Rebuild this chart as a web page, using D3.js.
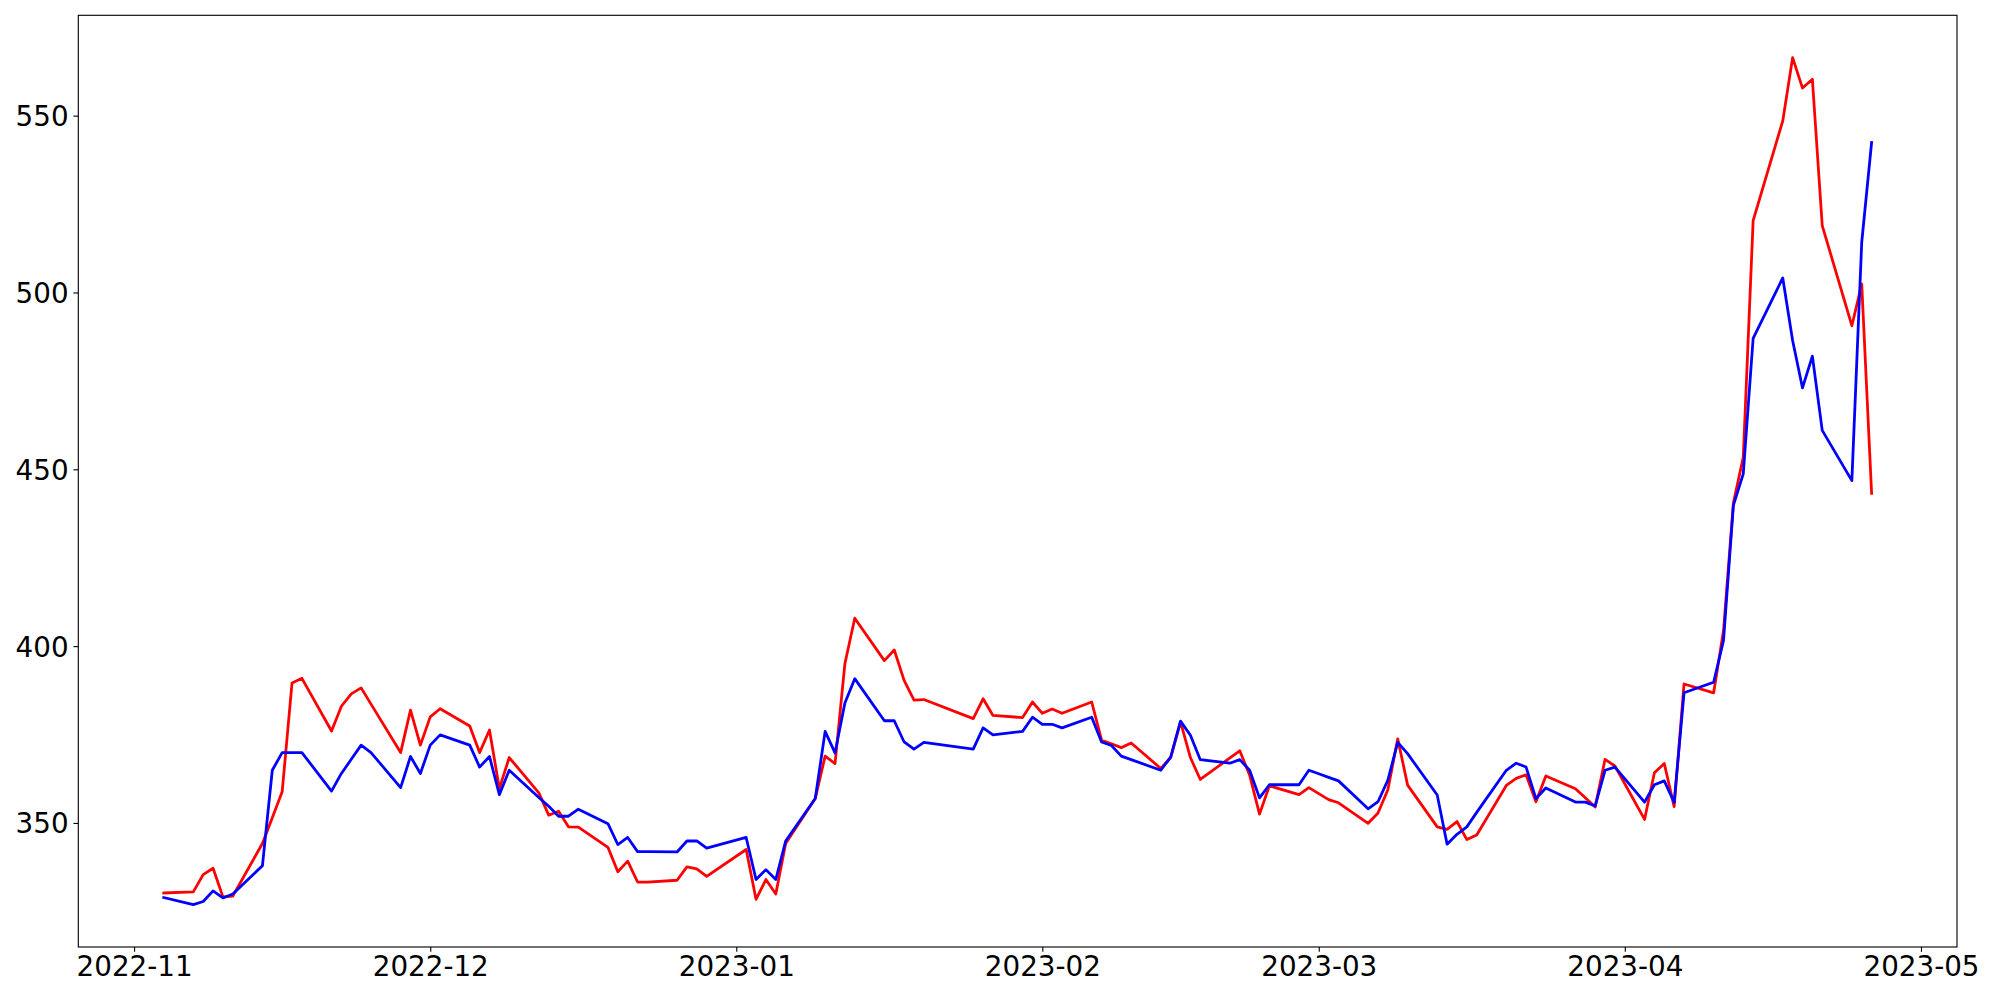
<!DOCTYPE html>
<html>
<head>
<meta charset="utf-8">
<script src="https://cdn.jsdelivr.net/npm/d3@7"></script>
<style>
  html, body { margin: 0; padding: 0; background: #ffffff; }
  svg { display: block; }
</style>
</head>
<body>
<svg id="chart" width="2000" height="1000"></svg>
<script>
const dates = [
  "2022-11-04","2022-11-07","2022-11-08","2022-11-09","2022-11-10","2022-11-11",
  "2022-11-14","2022-11-15","2022-11-16","2022-11-17","2022-11-18",
  "2022-11-21","2022-11-22","2022-11-23","2022-11-24","2022-11-25",
  "2022-11-28","2022-11-29","2022-11-30","2022-12-01","2022-12-02",
  "2022-12-05","2022-12-06","2022-12-07","2022-12-08","2022-12-09",
  "2022-12-12","2022-12-13","2022-12-14","2022-12-15","2022-12-16",
  "2022-12-19","2022-12-20","2022-12-21","2022-12-22","2022-12-23",
  "2022-12-26","2022-12-27","2022-12-28","2022-12-29",
  "2023-01-02","2023-01-03","2023-01-04","2023-01-05","2023-01-06",
  "2023-01-09","2023-01-10","2023-01-11","2023-01-12","2023-01-13",
  "2023-01-16","2023-01-17","2023-01-18","2023-01-19","2023-01-20",
  "2023-01-25","2023-01-26","2023-01-27",
  "2023-01-30","2023-01-31","2023-02-01","2023-02-02","2023-02-03",
  "2023-02-06","2023-02-07","2023-02-08","2023-02-09","2023-02-10",
  "2023-02-13","2023-02-14","2023-02-15","2023-02-16","2023-02-17",
  "2023-02-20","2023-02-21","2023-02-22","2023-02-23","2023-02-24",
  "2023-02-27","2023-02-28","2023-03-01","2023-03-02","2023-03-03",
  "2023-03-06","2023-03-07","2023-03-08","2023-03-09","2023-03-10",
  "2023-03-13","2023-03-14","2023-03-15","2023-03-16","2023-03-17",
  "2023-03-20","2023-03-21","2023-03-22","2023-03-23","2023-03-24",
  "2023-03-27","2023-03-28","2023-03-29","2023-03-30","2023-03-31",
  "2023-04-03","2023-04-04","2023-04-05","2023-04-06","2023-04-07",
  "2023-04-10","2023-04-11","2023-04-12","2023-04-13","2023-04-14",
  "2023-04-17","2023-04-18","2023-04-19","2023-04-20","2023-04-21",
  "2023-04-24","2023-04-25","2023-04-26"
];

const redValues = [
  330.2,330.5,335.4,337.2,329.1,329.3,
  344.2,351.5,358.8,389.6,390.9,
  376.0,383.0,386.5,388.2,383.6,
  369.9,381.9,372.0,380.0,382.3,
  377.4,369.9,376.3,359.7,368.5,
  358.5,352.2,353.3,348.9,348.8,
  343.1,336.2,339.2,333.3,333.3,
  333.8,337.6,337.0,334.9,
  342.5,328.4,334.0,329.9,344.2,
  356.9,368.9,366.8,395.0,407.9,
  395.9,398.9,390.3,384.7,384.9,
  379.5,385.1,380.4,
  379.8,384.2,381.0,382.2,381.0,
  384.2,373.4,372.4,371.3,372.6,
  365.4,368.5,378.6,368.5,362.3,
  368.4,370.4,363.5,352.5,360.5,
  358.0,360.0,358.3,356.6,355.7,
  349.9,352.8,359.4,373.8,360.7,
  348.9,348.2,350.4,345.3,346.6,
  360.6,362.6,363.6,356.0,363.3,
  359.7,357.1,354.5,368.0,366.1,
  351.0,364.2,366.8,354.6,389.3,
  386.8,404.4,440.5,453.4,520.3,
  548.5,566.4,557.8,560.3,518.9,
  490.6,502.4,443.2
];

const blueValues = [
  328.9,326.9,327.8,330.8,328.8,329.9,
  337.9,364.9,369.9,369.9,369.9,
  359.0,364.0,368.0,372.0,369.9,
  360.0,368.8,364.0,372.0,374.9,
  372.0,365.8,368.8,358.0,364.9,
  357.2,354.7,351.9,351.9,353.9,
  349.8,343.9,345.9,341.9,341.9,
  341.8,344.9,344.9,342.9,
  345.9,334.0,336.8,334.0,344.9,
  356.9,375.9,369.8,383.9,390.8,
  378.9,378.9,372.9,370.9,372.8,
  370.9,376.9,374.9,
  375.9,379.9,377.9,377.9,376.9,
  379.9,372.9,371.9,368.9,367.9,
  364.9,368.6,378.8,374.8,367.9,
  366.9,367.9,364.9,357.1,360.8,
  360.8,364.9,363.9,362.9,361.9,
  354.0,356.0,362.1,372.8,369.6,
  357.9,344.0,346.8,348.9,353.0,
  364.9,366.9,365.8,356.9,359.9,
  355.9,355.9,354.8,364.9,365.8,
  355.9,360.8,361.9,355.8,386.8,
  389.8,401.6,439.8,448.7,487.0,
  504.1,486.4,473.0,482.0,461.0,
  446.8,514.2,542.4
];

const yTickValues = [350, 400, 450, 500, 550];
const xTickLabels = ["2022-11","2022-12","2023-01","2023-02","2023-03","2023-04","2023-05"];

const W = 2000, H = 1000;
const plot = { left: 78.3, right: 1957, top: 15.3, bottom: 947 };
const fontPx = 27.78;

const parseDay = d3.timeParse("%Y-%m-%d");
const parseMonth = d3.timeParse("%Y-%m");
const fmtMonth = d3.timeFormat("%Y-%m");

const xs = dates.map(parseDay);
const redData = xs.map((d, i) => ({ date: d, value: redValues[i] }));
const blueData = xs.map((d, i) => ({ date: d, value: blueValues[i] }));

// matplotlib-like 5% margins
const [x0, x1] = d3.extent(xs);
const xPad = (x1 - x0) * 0.05;
const allVals = redValues.concat(blueValues);
const [y0, y1] = d3.extent(allVals);
const yPad = (y1 - y0) * 0.05;

const x = d3.scaleTime()
  .domain([new Date(+x0 - xPad), new Date(+x1 + xPad)])
  .range([plot.left, plot.right]);
const y = d3.scaleLinear()
  .domain([y0 - yPad, y1 + yPad])
  .range([plot.bottom, plot.top]);

const svg = d3.select("#chart");
svg.append("rect").attr("x", 0).attr("y", 0).attr("width", W).attr("height", H).attr("fill", "#ffffff");

const line = d3.line()
  .x(d => x(d.date))
  .y(d => y(d.value));

svg.append("path")
  .datum(redData)
  .attr("d", line)
  .attr("fill", "none")
  .attr("stroke", "#ff0000")
  .attr("stroke-width", 2.78)
  .attr("stroke-linejoin", "round")
  .attr("stroke-linecap", "square");

svg.append("path")
  .datum(blueData)
  .attr("d", line)
  .attr("fill", "none")
  .attr("stroke", "#0000ff")
  .attr("stroke-width", 2.78)
  .attr("stroke-linejoin", "round")
  .attr("stroke-linecap", "square");

// axes
const tickLen = 4.86, tickPad = 4.86;
const xAxis = d3.axisBottom(x)
  .tickValues(xTickLabels.map(parseMonth))
  .tickFormat(fmtMonth)
  .tickSize(tickLen)
  .tickPadding(tickPad);
const yAxis = d3.axisLeft(y)
  .tickValues(yTickValues)
  .tickFormat(d3.format("d"))
  .tickSize(tickLen)
  .tickPadding(tickPad);

const gx = svg.append("g").attr("transform", `translate(0,${plot.bottom})`).call(xAxis);
const gy = svg.append("g").attr("transform", `translate(${plot.left},0)`).call(yAxis);

[gx, gy].forEach(g => {
  g.select(".domain").remove();
  g.selectAll(".tick line").attr("stroke", "#000").attr("stroke-width", 1.11);
  g.selectAll(".tick text")
    .attr("fill", "#000")
    .style("font-family", "'DejaVu Sans', sans-serif")
    .style("font-size", fontPx + "px");
});
gy.selectAll(".tick text").attr("dy", "0.36em");

// frame (spines)
svg.append("rect")
  .attr("x", plot.left).attr("y", plot.top)
  .attr("width", plot.right - plot.left)
  .attr("height", plot.bottom - plot.top)
  .attr("fill", "none")
  .attr("stroke", "#000")
  .attr("stroke-width", 1.11);
</script>
</body>
</html>
